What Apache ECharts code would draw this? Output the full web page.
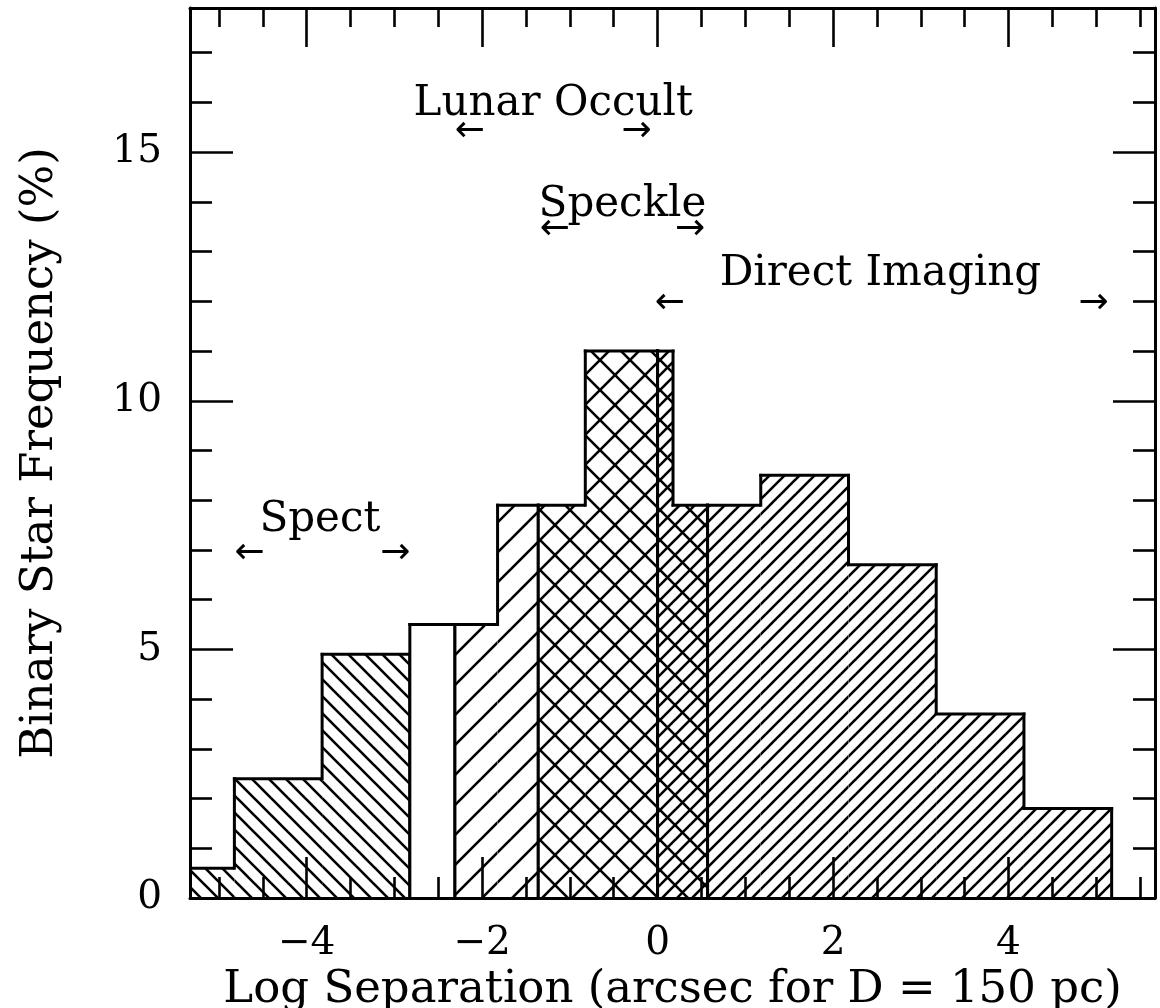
<!DOCTYPE html>
<html>
<head>
<meta charset="utf-8">
<script src="https://cdn.jsdelivr.net/npm/echarts@6/dist/echarts.min.js"></script>
<style>
  html, body { margin: 0; padding: 0; background: #fff; }
  #chart { width: 1160px; height: 1008px; }
</style>
</head>
<body>
<div id="chart"></div>
<script>
// Histogram of binary separations: bin edges (log arcsec) and frequency (%)
const binEdges = [-5.824, -4.824, -3.824, -2.824, -1.824, -0.824, 0.176, 1.176, 2.176, 3.176, 4.176, 5.176];
const binFreq = [0.6, 2.4, 4.9, 5.5, 7.9, 11.0, 7.9, 8.5, 6.7, 3.7, 1.8];

// Separation ranges covered by each observing technique
const techNames = ['Spect', 'Lunar Occult', 'Speckle', 'Direct Imaging'];
const techFrom = [-5.824, -2.31, -1.36, 0];
const techTo = [-2.824, 0, 0.57, 5.176];

// Axis ticks
const xMajorTicks = [-4, -2, 0, 2, 4];
const xMinorTicks = [-5, -4.5, -3.5, -3, -2.5, -1.5, -1, -0.5, 0.5, 1, 1.5, 2.5, 3, 3.5, 4.5, 5, 5.5];
const yMajorTicks = [0, 5, 10, 15];
const yMinorTicks = [1, 2, 3, 4, 6, 7, 8, 9, 11, 12, 13, 14, 16, 17];

// Technique annotations and their range arrows
const noteText = ['Lunar Occult', 'Speckle', 'Direct Imaging', 'Spect'];
const noteX = [-1.19, -0.40, 2.54, -3.85];
const noteY = [15.96, 13.93, 12.55, 7.61];
const arrowText = ['←', '→', '←', '→', '←', '→', '←', '→'];
const arrowX = [-2.14, -0.24, -1.17, 0.37, 0.14, 4.97, -4.65, -2.99];
const arrowY = [15.42, 15.42, 13.45, 13.45, 11.96, 11.96, 6.93, 6.93];

// ---- styling ----
const X_MIN = -5.33, X_MAX = 5.67, Y_MIN = 0, Y_MAX = 17.9;
const SERIF = 'DejaVu Serif';
const hatchStyle = {
  'Spect': { dir: '\\', gap: 17 },
  'Lunar Occult': { dir: '/', gap: 30 },
  'Speckle': { dir: '\\', gap: 30 },
  'Direct Imaging': { dir: '/', gap: 15 }
};

function makeHatch(dir, gap, lw) {
  const c = document.createElement('canvas');
  c.width = gap; c.height = gap;
  const g = c.getContext('2d');
  g.strokeStyle = '#000';
  g.lineWidth = lw;
  for (let k = -1; k <= 1; k++) {
    g.beginPath();
    if (dir === '/') {
      g.moveTo(k * gap - 1, gap + 1);
      g.lineTo(k * gap + gap + 1, -1);
    } else {
      g.moveTo(k * gap - 1, -1);
      g.lineTo(k * gap + gap + 1, gap + 1);
    }
    g.stroke();
  }
  return c;
}
const patterns = {};
techNames.forEach(t => { patterns[t] = makeHatch(hatchStyle[t].dir, hatchStyle[t].gap, 2.6); });

// Split each bin wherever a technique range starts or ends inside it
const cuts = techFrom.concat(techTo);
const isCut = v => cuts.some(c => Math.abs(c - v) < 1e-9);
const segments = [];
for (let i = 0; i < binFreq.length; i++) {
  const a = binEdges[i], b = binEdges[i + 1];
  const pts = [a, b].concat(cuts.filter(c => c > a + 1e-9 && c < b - 1e-9)).sort((p, q) => p - q);
  for (let j = 0; j < pts.length - 1; j++) {
    const mid = (pts[j] + pts[j + 1]) / 2;
    const techs = techNames.filter((t, k) => mid >= techFrom[k] && mid < techTo[k]);
    segments.push({ x0: pts[j], x1: pts[j + 1], h: binFreq[i], techs });
  }
}
segments.forEach((s, i) => {
  s.prevH = i > 0 ? segments[i - 1].h : 0;
  s.nextH = i < segments.length - 1 ? segments[i + 1].h : 0;
  s.leftCut = isCut(s.x0);
  s.rightCut = isCut(s.x1);
});

const axisLineStyle = { color: '#000', width: 3 };
const tickLine = { color: '#000', width: 2.6 };

function xAxisDef(position, ticks, len, withLabels, withLine) {
  return {
    type: 'value', position, min: X_MIN, max: X_MAX, z: 10,
    axisLine: { show: withLine, onZero: false, lineStyle: axisLineStyle },
    axisTick: { show: true, inside: true, length: len, customValues: ticks, lineStyle: tickLine },
    axisLabel: withLabels ? {
      show: true, customValues: ticks, margin: 26, color: '#000',
      fontFamily: SERIF, fontSize: 39,
      formatter: v => String(v).replace('-', '\u2212')
    } : { show: false },
    splitLine: { show: false }
  };
}
function yAxisDef(position, ticks, len, withLabels, withLine) {
  return {
    type: 'value', position, min: Y_MIN, max: Y_MAX, z: 10,
    axisLine: { show: withLine, onZero: false, lineStyle: axisLineStyle },
    axisTick: { show: true, inside: true, length: len, customValues: ticks, lineStyle: tickLine },
    axisLabel: withLabels ? {
      show: true, customValues: ticks, margin: 28, color: '#000',
      fontFamily: SERIF, fontSize: 39
    } : { show: false },
    splitLine: { show: false }
  };
}

const xAxes = [
  xAxisDef('bottom', xMajorTicks, 41, true, true),
  xAxisDef('bottom', xMinorTicks, 21, false, false),
  xAxisDef('top', xMajorTicks, 39, false, true),
  xAxisDef('top', xMinorTicks, 19, false, false)
];
Object.assign(xAxes[0], {
  name: 'Log Separation (arcsec for D = 150 pc)', nameLocation: 'middle', nameGap: 52,
  nameTextStyle: { fontFamily: SERIF, fontSize: 45, color: '#000' }
});
const yAxes = [
  yAxisDef('left', yMajorTicks, 43, true, true),
  yAxisDef('left', yMinorTicks, 22, false, false),
  yAxisDef('right', yMajorTicks, 42, false, true),
  yAxisDef('right', yMinorTicks, 22, false, false)
];
Object.assign(yAxes[0], {
  name: 'Binary Star Frequency (%)', nameLocation: 'middle', nameGap: 127,
  nameTextStyle: { fontFamily: SERIF, fontSize: 45, color: '#000' }
});

const textLabel = (texts, font, size) => ({
  show: true, position: 'inside', color: '#000', opacity: 1,
  fontFamily: font, fontSize: size,
  formatter: p => texts[p.dataIndex]
});

const chart = echarts.init(document.getElementById('chart'), null, { renderer: 'canvas' });
chart.setOption({
  animation: false,
  backgroundColor: '#fff',
  grid: { left: 190, right: 5, top: 8, bottom: 110, containLabel: false, outerBoundsMode: 'none' },
  xAxis: xAxes,
  yAxis: yAxes,
  series: [
    {
      type: 'custom',
      name: 'frequency',
      clip: true,
      silent: true,
      data: segments.map(s => [s.x0, s.x1, s.h]),
      encode: { x: [0, 1], y: 2 },
      renderItem(params, api) {
        const seg = segments[params.dataIndex];
        const x0 = api.value(0), x1 = api.value(1), h = api.value(2);
        const tl = api.coord([x0, h]);
        const br = api.coord([x1, 0]);
        const shape = { x: tl[0], y: tl[1], width: br[0] - tl[0], height: br[1] - tl[1] };
        const children = [{ type: 'rect', shape, style: { fill: '#fff' } }];
        seg.techs.forEach(t => {
          children.push({ type: 'rect', shape, style: { fill: { image: patterns[t], repeat: 'repeat' } } });
        });
        // histogram outline: top, steps, and full edges where a technique range changes
        const line = (a, b) => ({
          type: 'line',
          shape: { x1: a[0], y1: a[1], x2: b[0], y2: b[1] },
          style: { stroke: '#000', lineWidth: 3, lineCap: 'square' }
        });
        children.push(line(api.coord([x0, h]), api.coord([x1, h])));
        if (seg.leftCut || seg.prevH < h) {
          children.push(line(api.coord([x0, h]), api.coord([x0, seg.leftCut ? 0 : seg.prevH])));
        }
        if (seg.rightCut || seg.nextH < h) {
          children.push(line(api.coord([x1, h]), api.coord([x1, seg.rightCut ? 0 : seg.nextH])));
        }
        return { type: 'group', children };
      }
    },
    {
      type: 'scatter',
      name: 'techniques',
      silent: true,
      symbolSize: 1,
      itemStyle: { color: 'transparent', opacity: 1 },
      data: noteText.map((t, i) => [noteX[i], noteY[i]]),
      label: textLabel(noteText, SERIF, 42),
      z: 12
    },
    {
      type: 'scatter',
      name: 'ranges',
      silent: true,
      symbolSize: 1,
      itemStyle: { color: 'transparent', opacity: 1 },
      data: arrowText.map((t, i) => [arrowX[i], arrowY[i]]),
      label: textLabel(arrowText, 'DejaVu Sans', 36),
      z: 12
    }
  ]
});
</script>
</body>
</html>
